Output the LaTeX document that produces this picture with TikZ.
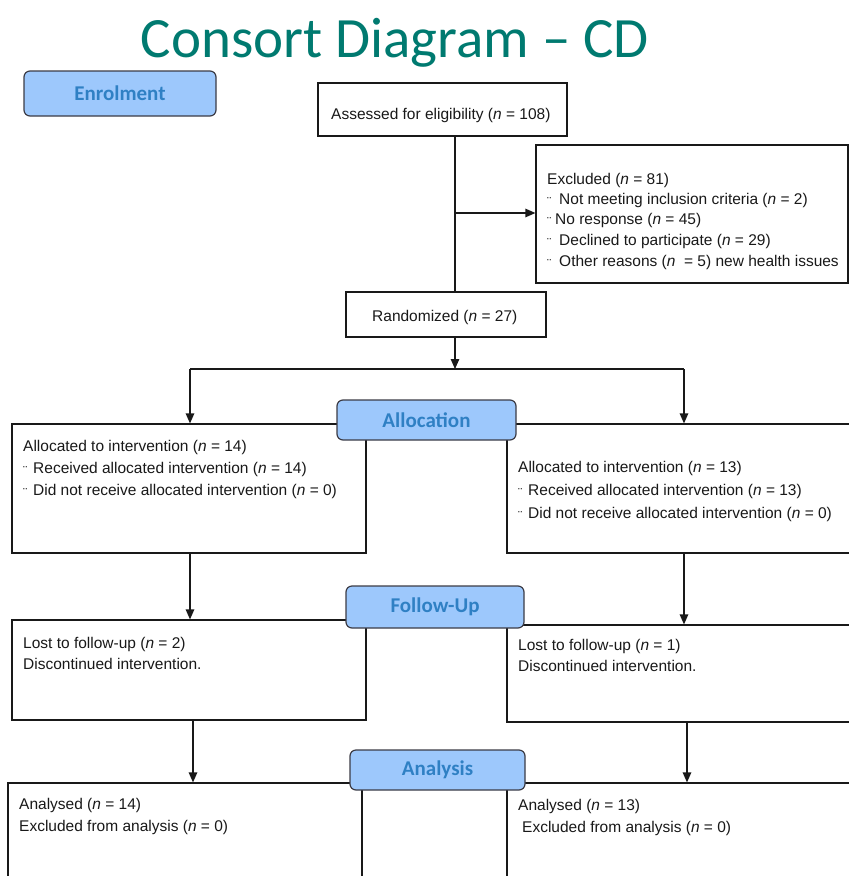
\documentclass[tikz,border=0pt]{standalone}
\usepackage{fontspec}
\setmainfont{Liberation Sans}
\newfontfamily\carlito{Carlito}
\usetikzlibrary{arrows.meta}
\definecolor{teal1}{RGB}{0,122,112}
\definecolor{lblfill}{RGB}{157,200,252}
\definecolor{lbltext}{RGB}{47,128,196}
\definecolor{lbldraw}{RGB}{60,60,70}
\definecolor{ink}{RGB}{25,25,25}
\newcommand\bul{\raisebox{-1.5pt}{\fontsize{13}{13}\selectfont ¨}}
\newcommand\bl[1]{\makebox[#1][l]{\bul}}
\begin{document}
\begin{tikzpicture}[x=1pt,y=-1pt,
  box/.style={draw=ink, line width=1.2pt, inner sep=0pt},
  lbl/.style={draw=lbldraw, fill=lblfill, line width=1.2pt, rounded corners=6pt,
    text=lbltext, font=\carlito\bfseries\fontsize{21}{25}\selectfont, inner sep=0pt},
  txt/.style={anchor=base west, inner sep=0pt, text=ink, font=\fontsize{15.5}{19}\selectfont},
  arr/.style={draw=ink, -{Triangle[length=10pt,width=8.5pt]}, line width=1.2pt},
  ln/.style={draw=ink, line width=1.2pt}]
\clip (0,0) rectangle (849,876);
\fill[white] (0,0) rectangle (849,876);

% title
\node[font=\carlito\fontsize{57}{60}\selectfont, text=teal1, anchor=base, inner sep=0pt] (title) at (395,57) {Consort Diagram – CD};

% boxes
\node[box, minimum width=249pt, minimum height=53pt] (assess) at (442.5,109.5) {};
\node[box, minimum width=312pt, minimum height=138pt] (excl) at (692,214) {};
\node[box, minimum width=200pt, minimum height=45pt] (rand) at (446,314.5) {};
\node[box, minimum width=354pt, minimum height=129pt] (allocL) at (189,488.5) {};
\node[box, minimum width=363pt, minimum height=129pt] (allocR) at (688.5,488.5) {};
\node[box, minimum width=354pt, minimum height=100pt] (fuL) at (189,670) {};
\node[box, minimum width=363pt, minimum height=97pt] (fuR) at (688.5,673.5) {};
\node[box, minimum width=354pt, minimum height=117pt] (anL) at (185,841.5) {};
\node[box, minimum width=363pt, minimum height=117pt] (anR) at (688.5,841.5) {};

% connector coordinates
\coordinate (jn) at (455,213);
\coordinate (split) at (455,369);
\coordinate (lx) at (190,369);
\coordinate (rx) at (684,369);
\coordinate (lx2) at (193,0);
\coordinate (rx2) at (687,0);

% connectors
\draw[ln] (assess.south -| jn) -- (rand.north -| jn);
\draw[arr] (jn) -- (jn -| excl.west);
\draw[arr] (rand.south -| split) -- (split);
\draw[ln] (lx) -- (rx);
\draw[arr] (lx) -- (lx |- allocL.north);
\draw[arr] (rx) -- (rx |- allocR.north);
\draw[arr] (allocL.south -| lx) -- (fuL.north -| lx);
\draw[arr] (allocR.south -| rx) -- (fuR.north -| rx);
\draw[arr] (fuL.south -| lx2) -- (anL.north -| lx2);
\draw[arr] (fuR.south -| rx2) -- (anR.north -| rx2);

% stage labels
\node[lbl, minimum width=192pt, minimum height=45pt] (enrol) at (120,93.5) {Enrolment};
\node[lbl, minimum width=179pt, minimum height=40pt] (allocLbl) at (426.5,420) {Allocation};
\node[lbl, minimum width=178pt, minimum height=42pt] (fuLbl) at (435,607) {Follow-Up};
\node[lbl, minimum width=175pt, minimum height=40pt] (anLbl) at (437.5,770) {Analysis};

% texts
\node[txt] (tA) at (331,119.5) {Assessed for eligibility (\textit{n} = 108)};
\node[txt] (tE1) at (547,184.5) {Excluded (\textit{n} = 81)};
\node[txt] (tE2) at (547,204.5) {\bl{12pt}Not meeting inclusion criteria (\textit{n} = 2)};
\node[txt] (tE3) at (547,224.5) {\bl{8pt}No response (\textit{n} = 45)};
\node[txt] (tE4) at (547,245.5) {\bl{12pt}Declined to participate (\textit{n} = 29)};
\node[txt] (tE5) at (547,266.5) {\bl{12pt}Other reasons (\textit{n}\ \ = 5) new health issues};
\node[txt] (tR) at (372,321.5) {Randomized (\textit{n} = 27)};

\node[txt] (tL1) at (23,451.5) {Allocated to intervention (\textit{n} = 14)};
\node[txt] (tL2) at (23,473.5) {\bl{10pt}Received allocated intervention (\textit{n} = 14)};
\node[txt] (tL3) at (23,495.5) {\bl{10pt}Did not receive allocated intervention (\textit{n} = 0)};
\node[txt] (tR1) at (518,472.5) {Allocated to intervention (\textit{n} = 13)};
\node[txt] (tR2) at (518,495.5) {\bl{10pt}Received allocated intervention (\textit{n} = 13)};
\node[txt] (tR3) at (518,518.5) {\bl{10pt}Did not receive allocated intervention (\textit{n} = 0)};

\node[txt] (tF1) at (23,648.5) {Lost to follow-up (\textit{n} = 2)};
\node[txt] (tF2) at (23,669.5) {Discontinued intervention.};
\node[txt] (tF3) at (518,650.5) {Lost to follow-up (\textit{n} = 1)};
\node[txt] (tF4) at (518,671.5) {Discontinued intervention.};

\node[txt] (tN1) at (19,809.5) {Analysed (\textit{n} = 14)};
\node[txt] (tN2) at (19,831.5) {Excluded from analysis (\textit{n} = 0)};
\node[txt] (tN3) at (518,810.5) {Analysed (\textit{n} = 13)};
\node[txt] (tN4) at (522,832.5) {Excluded from analysis (\textit{n} = 0)};
\end{tikzpicture}
\end{document}
